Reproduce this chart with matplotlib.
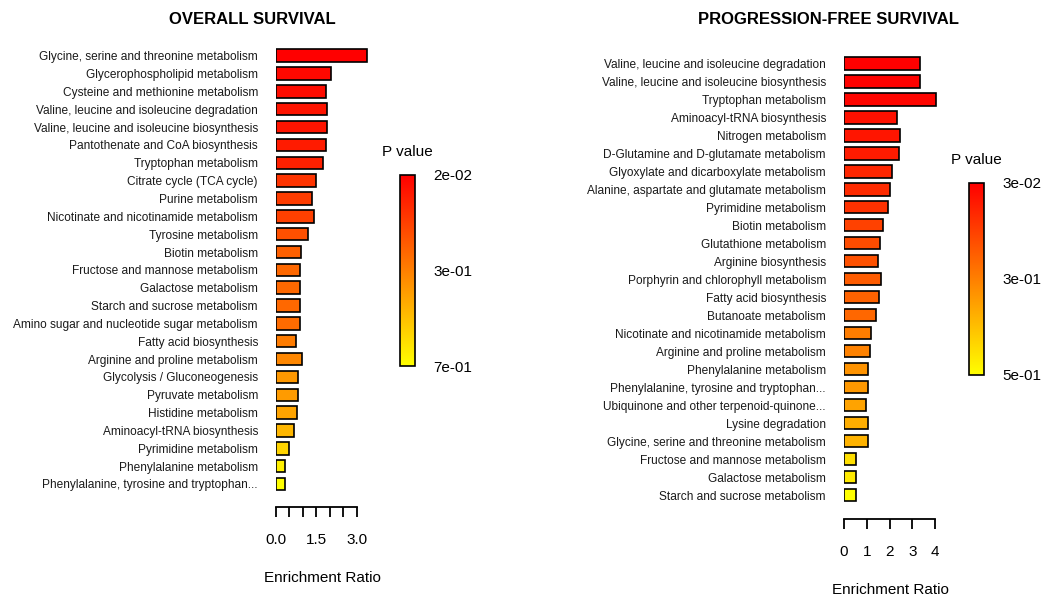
import numpy as np
import matplotlib
matplotlib.use("Agg")
import matplotlib.pyplot as plt
from matplotlib.colors import LinearSegmentedColormap, Normalize
from matplotlib.cm import ScalarMappable

plt.rcParams['font.family'] = ['Liberation Sans', 'DejaVu Sans']

# overall survival
os_names = ["Glycine, serine and threonine metabolism", "Glycerophospholipid metabolism",
            "Cysteine and methionine metabolism", "Valine, leucine and isoleucine degradation",
            "Valine, leucine and isoleucine biosynthesis", "Pantothenate and CoA biosynthesis",
            "Tryptophan metabolism", "Citrate cycle (TCA cycle)", "Purine metabolism",
            "Nicotinate and nicotinamide metabolism", "Tyrosine metabolism", "Biotin metabolism",
            "Fructose and mannose metabolism", "Galactose metabolism", "Starch and sucrose metabolism",
            "Amino sugar and nucleotide sugar metabolism", "Fatty acid biosynthesis",
            "Arginine and proline metabolism", "Glycolysis / Gluconeogenesis", "Pyruvate metabolism",
            "Histidine metabolism", "Aminoacyl-tRNA biosynthesis", "Pyrimidine metabolism",
            "Phenylalanine metabolism", "Phenylalanine, tyrosine and tryptophan..."]
os_ratio = [3.39, 2.04, 1.85, 1.90, 1.90, 1.86, 1.76, 1.49, 1.35, 1.42, 1.18, 0.94,
            0.89, 0.89, 0.89, 0.89, 0.73, 0.98, 0.81, 0.81, 0.79, 0.66, 0.47, 0.35, 0.35]
os_p = [0.02, 0.04, 0.05, 0.07, 0.07, 0.09, 0.10, 0.15, 0.17, 0.18, 0.22, 0.26,
        0.28, 0.28, 0.28, 0.29, 0.33, 0.36, 0.40, 0.41, 0.43, 0.48, 0.55, 0.62, 0.66]

# progression-free survival
pfs_names = ["Valine, leucine and isoleucine degradation", "Valine, leucine and isoleucine biosynthesis",
             "Tryptophan metabolism", "Aminoacyl-tRNA biosynthesis", "Nitrogen metabolism",
             "D-Glutamine and D-glutamate metabolism", "Glyoxylate and dicarboxylate metabolism",
             "Alanine, aspartate and glutamate metabolism", "Pyrimidine metabolism", "Biotin metabolism",
             "Glutathione metabolism", "Arginine biosynthesis", "Porphyrin and chlorophyll metabolism",
             "Fatty acid biosynthesis", "Butanoate metabolism", "Nicotinate and nicotinamide metabolism",
             "Arginine and proline metabolism", "Phenylalanine metabolism",
             "Phenylalanine, tyrosine and tryptophan...", "Ubiquinone and other terpenoid-quinone...",
             "Lysine degradation", "Glycine, serine and threonine metabolism",
             "Fructose and mannose metabolism", "Galactose metabolism", "Starch and sucrose metabolism"]
pfs_ratio = [3.33, 3.33, 4.04, 2.33, 2.48, 2.40, 2.12, 2.02, 1.93, 1.73, 1.58, 1.51,
             1.63, 1.55, 1.42, 1.17, 1.16, 1.05, 1.05, 0.95, 1.05, 1.05, 0.54, 0.54, 0.54]
pfs_p = [0.03, 0.035, 0.04, 0.06, 0.07, 0.08, 0.10, 0.11, 0.12, 0.15, 0.17, 0.18,
         0.20, 0.21, 0.22, 0.26, 0.27, 0.30, 0.31, 0.33, 0.35, 0.36, 0.44, 0.46, 0.50]

cmap = LinearSegmentedColormap.from_list("heat", ["#ff0000", "#ff8000", "#ffff00"])

fig = plt.figure(figsize=(10.5, 6), dpi=100)


def panel(names, ratio, pvals, rect, xmax, ticks, ticklabels, cbrect, title, title_x, outward):
    ax = fig.add_axes(rect)
    norm = Normalize(min(pvals), max(pvals))
    y = np.arange(len(names))
    ax.barh(y, ratio, height=0.7, color=cmap(norm(pvals)), edgecolor='black', linewidth=1.2)
    ax.set_ylim(len(names) - 0.5, -0.5)
    ax.set_xlim(0, xmax)
    ax.set_yticks(y)
    ax.set_yticklabels(names, fontsize=8.6, color='#1a1a1a')
    ax.tick_params(axis='y', length=0, pad=13)
    for s in ['left', 'right', 'top']:
        ax.spines[s].set_visible(False)
    ax.spines['bottom'].set_position(('outward', outward))
    ax.spines['bottom'].set_bounds(ticks[0], ticks[-1])
    ax.spines['bottom'].set_linewidth(1.3)
    ax.set_xticks(ticks)
    ax.set_xticklabels(ticklabels, fontsize=11)
    ax.tick_params(axis='x', length=7, width=1.3, pad=12)
    ax.set_xlabel("Enrichment Ratio", fontsize=11, labelpad=17)
    fig.text(title_x, 1 - 20 / 600, title, fontsize=12, fontweight='bold', ha='center', va='center')

    # colour key
    cax = fig.add_axes(cbrect)
    cb = fig.colorbar(ScalarMappable(norm=norm, cmap=cmap), cax=cax)
    cax.set_ylim(max(pvals), min(pvals))
    lo, hi = min(pvals), max(pvals)
    mid = (lo + hi) / 2
    cb.set_ticks([lo, mid, hi])
    cb.set_ticklabels(['{:.0e}'.format(v) for v in [lo, mid, hi]])
    cax.tick_params(length=0, labelsize=11, pad=13)
    cb.outline.set_linewidth(1.2)
    cax.set_title("P value", fontsize=11, pad=13.5)


panel(os_names, os_ratio, os_p, [276 / 1050, 0.1785, 92.8 / 1050, 0.7435], 3.45,
      [0, 0.5, 1.0, 1.5, 2.0, 2.5, 3.0], ["0.0", "", "", "1.5", "", "", "3.0"],
      [400 / 1050, 1 - 366 / 600, 15 / 1050, 191 / 600], "OVERALL SURVIVAL", 252 / 1050, 10.1)

panel(pfs_names, pfs_ratio, pfs_p, [844 / 1050, 0.16, 93.3 / 1050, 0.7495], 4.1,
      [0, 1, 2, 3, 4], ["0", "1", "2", "3", "4"],
      [969 / 1050, 1 - 375 / 600, 15 / 1050, 192 / 600], "PROGRESSION-FREE SURVIVAL", 829 / 1050, 10.8)

fig.savefig("out.png", dpi=100)
